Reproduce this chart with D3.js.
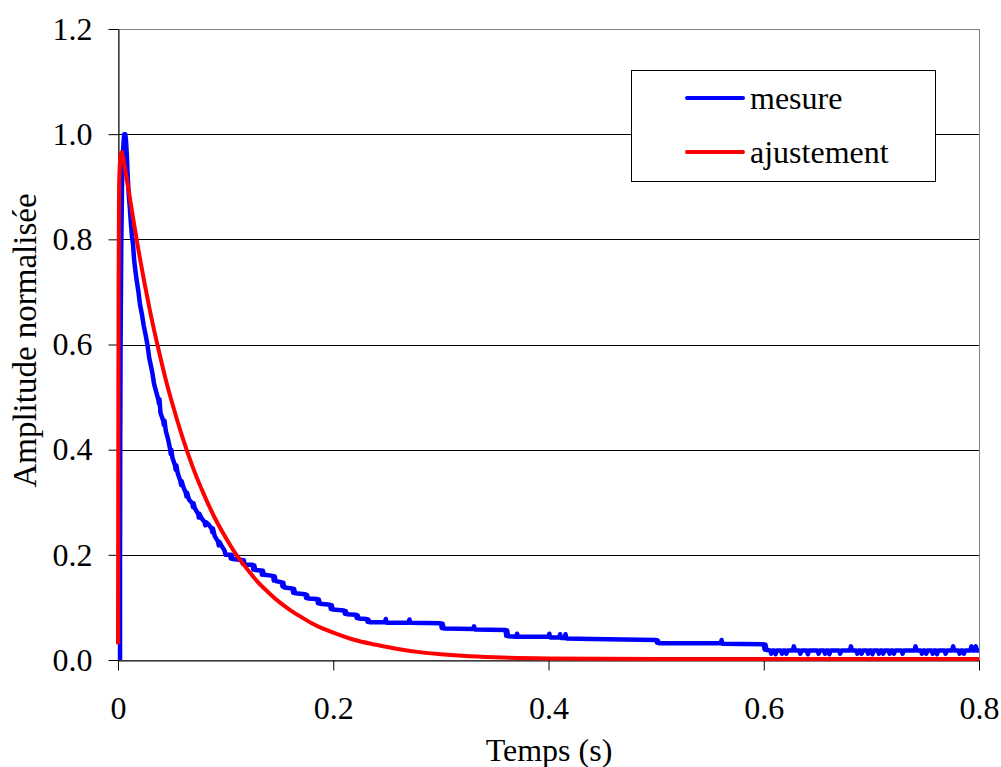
<!DOCTYPE html>
<html>
<head>
<meta charset="utf-8">
<script src="https://cdn.jsdelivr.net/npm/d3@7"></script>
<style>
  html, body { margin: 0; padding: 0; background: #fff; }
  svg { display: block; font-family: "Liberation Serif", "Times New Roman", serif; }
</style>
</head>
<body>
<svg id="chart" width="1001" height="767"></svg>
<script>
// ---- Data ----
const xTicks = [0, 0.2, 0.4, 0.6, 0.8];
const xTickLabels = ["0", "0.2", "0.4", "0.6", "0.8"];
const yTicks = [0, 0.2, 0.4, 0.6, 0.8, 1.0, 1.2];
const yTickLabels = ["0.0", "0.2", "0.4", "0.6", "0.8", "1.0", "1.2"];
const seriesNames = ["mesure", "ajustement"];
const xTitle = "Temps (s)";
const yTitle = "Amplitude normalisée";

// measured signal: [time s, normalised amplitude]
const mesure = [
  [0.0019,0.000],[0.0019,0.180],[0.0021,0.420],[0.0024,0.600],[0.0030,0.780],
  [0.0037,0.900],[0.0045,0.960],[0.0052,0.985],[0.0058,1.000],[0.0068,1.000],
  [0.0075,0.985],[0.0082,0.960],[0.0088,0.930],[0.0095,0.900],[0.0102,0.880],
  [0.0110,0.860],[0.0120,0.830],[0.0130,0.805],[0.0140,0.790],[0.0150,0.760],
  [0.0162,0.740],[0.0175,0.720],[0.0190,0.700],[0.0205,0.675],[0.0220,0.660],
  [0.0240,0.635],[0.0255,0.620],[0.0273,0.600],[0.0290,0.575],[0.0305,0.560],
  [0.0320,0.545],[0.0335,0.525],[0.0355,0.510],[0.0375,0.495],[0.0380,0.488],
  [0.0385,0.496],[0.0395,0.470],[0.0420,0.455],[0.0426,0.447],[0.0432,0.455],
  [0.0445,0.435],[0.0465,0.420],[0.0485,0.400],[0.0490,0.392],[0.0495,0.400],
  [0.0505,0.385],[0.0530,0.370],[0.0536,0.362],[0.0542,0.370],[0.0555,0.355],
  [0.0580,0.340],[0.0586,0.333],[0.0592,0.340],[0.0605,0.330],[0.0630,0.318],
  [0.0636,0.311],[0.0642,0.318],[0.0660,0.305],[0.0690,0.298],[0.0696,0.291],
  [0.0702,0.298],[0.0715,0.288],[0.0745,0.278],[0.0751,0.271],[0.0757,0.278],
  [0.0775,0.270],[0.0805,0.262],[0.0811,0.256],[0.0817,0.262],[0.0840,0.258],
  [0.0870,0.250],[0.0876,0.243],[0.0882,0.250],[0.0900,0.235],[0.0930,0.225],
  [0.0936,0.218],[0.0942,0.225],[0.0960,0.218],[0.0990,0.208],
  [0.1000,0.200],[0.1040,0.200],[0.1048,0.193],[0.1055,0.200],[0.1065,0.192],
  [0.1150,0.190],[0.1160,0.183],[0.1168,0.190],[0.1178,0.181],[0.1250,0.181],
  [0.1258,0.172],[0.1266,0.180],[0.1276,0.171],[0.1330,0.170],[0.1338,0.162],
  [0.1346,0.170],[0.1356,0.162],[0.1440,0.160],[0.1448,0.151],[0.1456,0.159],
  [0.1466,0.150],[0.1520,0.148],[0.1528,0.140],[0.1536,0.147],[0.1546,0.138],
  [0.1620,0.136],[0.1628,0.128],[0.1636,0.135],[0.1646,0.127],[0.1740,0.125],
  [0.1748,0.118],[0.1756,0.124],[0.1766,0.117],[0.1850,0.116],[0.1858,0.108],
  [0.1866,0.115],[0.1876,0.107],[0.1970,0.105],[0.1978,0.097],[0.1986,0.104],
  [0.1996,0.096],[0.2100,0.094],[0.2108,0.088],[0.2116,0.093],[0.2126,0.087],
  [0.2210,0.086],[0.2218,0.080],[0.2226,0.085],[0.2236,0.079],[0.2310,0.078],
  [0.2318,0.073],[0.2326,0.077],[0.2336,0.072],[0.2480,0.072],[0.2488,0.078],
  [0.2496,0.071],[0.2700,0.071],[0.2708,0.077],[0.2716,0.071],[0.3000,0.070],
  [0.3008,0.061],[0.3016,0.069],[0.3026,0.060],[0.3300,0.059],[0.3308,0.064],
  [0.3316,0.058],[0.3600,0.057],[0.3608,0.046],[0.3616,0.056],[0.3626,0.045],
  [0.3700,0.044],[0.3708,0.050],[0.3716,0.044],[0.4000,0.044],[0.4008,0.050],
  [0.4016,0.043],[0.4100,0.043],[0.4108,0.049],[0.4116,0.042],[0.4150,0.042],
  [0.4158,0.049],[0.4166,0.041],[0.4400,0.040],[0.5000,0.038],[0.5008,0.033],
  [0.5016,0.037],[0.5026,0.032],[0.5600,0.032],[0.5608,0.038],[0.5616,0.031],
  [0.6000,0.030],[0.6008,0.020],[0.6016,0.029],[0.6026,0.019],
  [0.6060,0.018],[0.6070,0.012],[0.6080,0.018],[0.6100,0.018],[0.6110,0.011],
  [0.6120,0.018],[0.6160,0.018],[0.6170,0.012],[0.6180,0.018],[0.6200,0.018],
  [0.6210,0.012],[0.6220,0.018],[0.6270,0.018],[0.6280,0.026],[0.6290,0.018],
  [0.6330,0.018],[0.6340,0.012],[0.6350,0.018],[0.6400,0.018],[0.6410,0.011],
  [0.6420,0.018],[0.6500,0.018],[0.6510,0.012],[0.6520,0.018],[0.6560,0.018],
  [0.6570,0.012],[0.6580,0.018],[0.6600,0.018],[0.6610,0.011],[0.6620,0.018],
  [0.6700,0.018],[0.6710,0.012],[0.6720,0.018],[0.6800,0.018],[0.6810,0.026],
  [0.6820,0.018],[0.6860,0.018],[0.6870,0.012],[0.6880,0.018],[0.6900,0.018],
  [0.6910,0.012],[0.6920,0.018],[0.6960,0.018],[0.6970,0.012],[0.6980,0.018],
  [0.7000,0.018],[0.7010,0.011],[0.7020,0.018],[0.7060,0.018],[0.7070,0.012],
  [0.7080,0.018],[0.7100,0.018],[0.7110,0.012],[0.7120,0.018],[0.7160,0.018],
  [0.7170,0.012],[0.7180,0.018],[0.7200,0.018],[0.7210,0.012],[0.7220,0.018],
  [0.7280,0.018],[0.7290,0.012],[0.7300,0.018],[0.7400,0.018],[0.7410,0.026],
  [0.7420,0.018],[0.7460,0.018],[0.7470,0.012],[0.7480,0.018],[0.7500,0.018],
  [0.7510,0.012],[0.7520,0.018],[0.7560,0.018],[0.7570,0.012],[0.7580,0.018],
  [0.7600,0.018],[0.7610,0.011],[0.7620,0.018],[0.7680,0.018],[0.7690,0.012],
  [0.7700,0.018],[0.7750,0.018],[0.7760,0.026],[0.7770,0.018],[0.7810,0.018],
  [0.7820,0.012],[0.7830,0.018],[0.7850,0.018],[0.7860,0.012],[0.7870,0.018],
  [0.7920,0.018],[0.7930,0.026],[0.7940,0.018],[0.7960,0.018],[0.7970,0.026],
  [0.7980,0.018],[0.8000,0.018]
];

// fitted curve: [time s, normalised amplitude]
const ajustement = [
  [0.0000,0.030],[0.0005,0.700],[0.0010,0.900],[0.0020,0.950],[0.0034,0.966],
  [0.0060,0.940],[0.0100,0.892],[0.0150,0.828],[0.0200,0.768],[0.0250,0.713],
  [0.0300,0.661],[0.0350,0.614],[0.0400,0.570],[0.0450,0.528],[0.0500,0.491],
  [0.0550,0.456],[0.0600,0.423],[0.0700,0.364],[0.0800,0.314],[0.0900,0.270],
  [0.1000,0.233],[0.1100,0.200],[0.1200,0.173],[0.1300,0.148],[0.1400,0.128],
  [0.1500,0.110],[0.1600,0.095],[0.1700,0.082],[0.1800,0.070],[0.1900,0.060],
  [0.2000,0.052],[0.2200,0.038],[0.2400,0.029],[0.2600,0.021],[0.2800,0.015],
  [0.3000,0.011],[0.3200,0.008],[0.3500,0.005],[0.4000,0.003],[0.5000,0.002],
  [0.8000,0.002]
];

const colors = ["#0000ff", "#ff0000"];
const widths = [4.5, 4];

// ---- Layout ----
const svg = d3.select("#chart");
const X0 = 118, X1 = 979, Y0 = 660, Y1 = 29;
const x = d3.scaleLinear().domain([0, 0.8]).range([X0, X1]);
const y = d3.scaleLinear().domain([0, 1.2]).range([Y0, Y1]);
const FS = 32;

// plot-area border (grey, top & right)
svg.append("rect")
  .attr("x", X0 + 0.5).attr("y", Y1 + 0.5)
  .attr("width", X1 - X0).attr("height", Y0 - Y1)
  .attr("fill", "none").attr("stroke", "#808080").attr("stroke-width", 1);

// gridlines
svg.append("g").selectAll("line")
  .data(yTicks.filter(d => d > 0 && d < 1.2))
  .join("line")
  .attr("x1", X0).attr("x2", X1)
  .attr("y1", d => Math.round(y(d)) + 0.5).attr("y2", d => Math.round(y(d)) + 0.5)
  .attr("stroke", "#000").attr("stroke-width", 1);

// axes
const xAxis = d3.axisBottom(x).tickValues(xTicks)
  .tickFormat((d, i) => xTickLabels[i]).tickSizeInner(10).tickSizeOuter(0).tickPadding(26);
const yAxis = d3.axisLeft(y).tickValues(yTicks)
  .tickFormat((d, i) => yTickLabels[i]).tickSizeInner(10).tickSizeOuter(0).tickPadding(16);

const gx = svg.append("g").attr("transform", `translate(0,${Y0 + 0.5})`).call(xAxis);
const gy = svg.append("g").attr("transform", `translate(${X0 + 0.5},0)`).call(yAxis);
[gx, gy].forEach(g => {
  g.select(".domain").attr("stroke", "#000").attr("stroke-width", 1);
  g.selectAll(".tick line").attr("stroke", "#000").attr("stroke-width", 1);
  g.selectAll(".tick text")
    .attr("font-family", "Liberation Serif, serif")
    .attr("font-size", FS).attr("fill", "#000");
});
gy.selectAll(".tick text").attr("dy", "0.32em");

// series lines
const line = d3.line().x(d => x(d[0])).y(d => y(d[1]));
svg.append("path").datum(mesure)
  .attr("d", line).attr("fill", "none")
  .attr("stroke", colors[0]).attr("stroke-width", widths[0]).attr("stroke-linejoin", "round");
svg.append("path").datum(ajustement)
  .attr("d", d3.line().x(d => x(d[0])).y(d => y(d[1])).curve(d3.curveMonotoneX)).attr("fill", "none")
  .attr("stroke", colors[1]).attr("stroke-width", widths[1]).attr("stroke-linejoin", "round");

// axis titles
svg.append("text")
  .attr("x", (X0 + X1) / 2 + 0.5).attr("y", 761)
  .attr("text-anchor", "middle").attr("font-size", FS).text(xTitle);
svg.append("text")
  .attr("transform", `translate(36,${(Y0 + Y1) / 2 - 4}) rotate(-90)`)
  .attr("text-anchor", "middle").attr("font-size", 33).text(yTitle);

// legend
const lg = svg.append("g");
lg.append("rect")
  .attr("x", 631.5).attr("y", 70.5).attr("width", 304).attr("height", 111)
  .attr("fill", "#fff").attr("stroke", "#000").attr("stroke-width", 1);
const ly = [98, 152];
seriesNames.forEach((name, i) => {
  lg.append("line")
    .attr("x1", 687).attr("x2", 743).attr("y1", ly[i]).attr("y2", ly[i])
    .attr("stroke", colors[i]).attr("stroke-width", 4).attr("stroke-linecap", "round");
  lg.append("text")
    .attr("x", 750).attr("y", ly[i] + 11)
    .attr("font-size", FS).text(name);
});
</script>
</body>
</html>
